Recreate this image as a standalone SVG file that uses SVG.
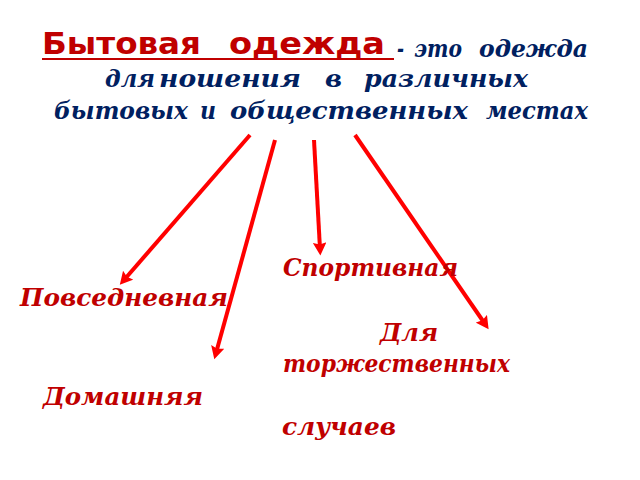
<svg xmlns="http://www.w3.org/2000/svg" width="640" height="480" viewBox="0 0 640 480">
<style>
.t{font-family:"DejaVu Serif","Liberation Serif",serif;font-weight:bold;font-style:italic;fill:#002060;font-size:24px}
.h{font-family:"DejaVu Sans","Liberation Sans",sans-serif;font-weight:bold;fill:#c00000;font-size:31px}
.l{font-family:"DejaVu Serif","Liberation Serif",serif;font-weight:bold;font-style:italic;fill:#c00000;font-size:24px}
.a{stroke:#ff0000;stroke-width:4;fill:none;marker-end:url(#ah)}
</style>
<defs>
<marker id="ah" markerWidth="3.4" markerHeight="3.4" refX="1.6" refY="1.7" orient="auto" markerUnits="strokeWidth">
<path d="M0,0 L3.2,1.7 L0,3.4 L0.5,1.7 Z" fill="#ff0000"/>
</marker>
</defs>
<rect width="640" height="480" fill="#ffffff"/>
<g id="title">
<text class="h" x="42" y="54" textLength="159" lengthAdjust="spacingAndGlyphs">Бытовая</text>
<text class="h" x="229" y="54" textLength="156" lengthAdjust="spacingAndGlyphs">одежда</text>
<line x1="42" y1="59" x2="394" y2="59" stroke="#c00000" stroke-width="2"/>
<text class="t" x="397" y="57" textLength="7" lengthAdjust="spacingAndGlyphs">-</text>
<text class="t" x="414" y="57" textLength="48" lengthAdjust="spacingAndGlyphs">это</text>
<text class="t" x="479" y="57" textLength="109" lengthAdjust="spacingAndGlyphs">одежда</text>
<text class="t" x="105" y="87" textLength="50" lengthAdjust="spacingAndGlyphs">для</text>
<text class="t" x="159" y="87" textLength="142" lengthAdjust="spacingAndGlyphs">ношения</text>
<text class="t" x="325" y="87" textLength="17" lengthAdjust="spacingAndGlyphs">в</text>
<text class="t" x="364" y="87" textLength="164" lengthAdjust="spacingAndGlyphs">различных</text>
<text class="t" x="54" y="119" textLength="134" lengthAdjust="spacingAndGlyphs">бытовых</text>
<text class="t" x="200" y="119" textLength="16" lengthAdjust="spacingAndGlyphs">и</text>
<text class="t" x="230" y="119" textLength="238" lengthAdjust="spacingAndGlyphs">общественных</text>
<text class="t" x="486" y="119" textLength="102" lengthAdjust="spacingAndGlyphs">местах</text>
</g>
<g id="connectors">
<line class="a" x1="250" y1="135" x2="124" y2="280"/>
<line class="a" x1="275" y1="140" x2="216" y2="353"/>
<line class="a" x1="314" y1="140" x2="320" y2="249"/>
<line class="a" x1="355" y1="135" x2="485" y2="324"/>
</g>
<g id="sport"><text class="l" x="283" y="276" textLength="175" lengthAdjust="spacingAndGlyphs">Спортивная</text></g>
<g id="everyday"><text class="l" x="20" y="306" textLength="208" lengthAdjust="spacingAndGlyphs">Повседневная</text></g>
<g id="festive"><text class="l" x="380" y="341" textLength="58" lengthAdjust="spacingAndGlyphs">Для</text><text class="l" x="283" y="372" textLength="227" lengthAdjust="spacingAndGlyphs">торжественных</text><text class="l" x="282" y="435" textLength="114" lengthAdjust="spacingAndGlyphs">случаев</text></g>
<g id="home"><text class="l" x="43" y="405" textLength="160" lengthAdjust="spacingAndGlyphs">Домашняя</text></g>
</svg>
